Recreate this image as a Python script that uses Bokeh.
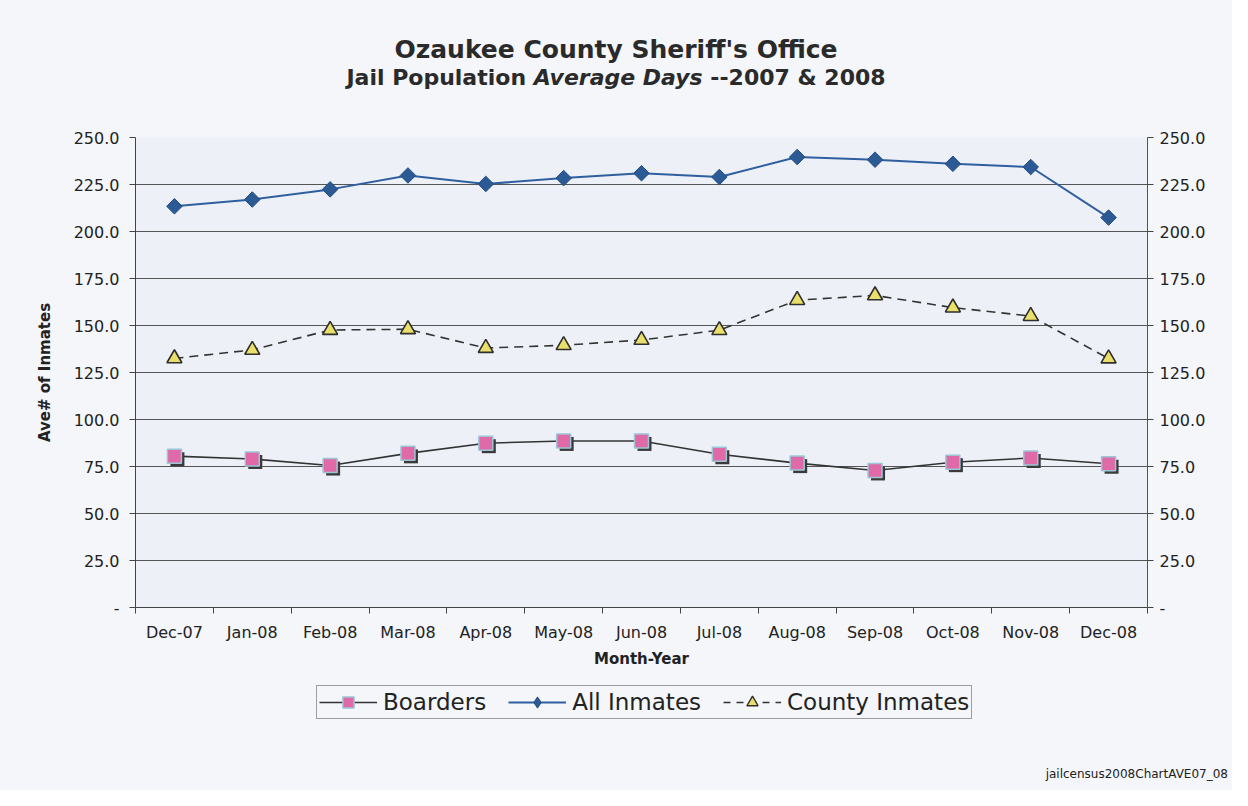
from bokeh.plotting import figure
from bokeh.models import (FixedTicker, LinearAxis, Legend, LegendItem, Range1d, Div)
from bokeh.layouts import column
from bokeh.embed import file_html
from bokeh.resources import INLINE

# ---------------- data ----------------
months = ["Dec-07", "Jan-08", "Feb-08", "Mar-08", "Apr-08", "May-08", "Jun-08",
          "Jul-08", "Aug-08", "Sep-08", "Oct-08", "Nov-08", "Dec-08"]
all_inmates = [213.4, 217.0, 222.4, 229.8, 225.3, 228.4, 231.0,
               229.0, 239.6, 238.2, 236.0, 234.3, 207.4]
county_inmates = [132.5, 137.0, 147.6, 148.0, 138.0, 139.5, 142.3,
                  147.5, 163.5, 166.0, 159.5, 155.0, 132.4]
boarders = [80.5, 79.0, 75.5, 82.0, 87.4, 88.6, 88.6,
            81.5, 76.8, 72.9, 77.3, 79.5, 76.5]
y_ticks = [0, 25, 50, 75, 100, 125, 150, 175, 200, 225, 250]
y_tick_labels = ["-", "25.0", "50.0", "75.0", "100.0", "125.0", "150.0",
                 "175.0", "200.0", "225.0", "250.0"]
series_names = ["Boarders", "All Inmates", "County Inmates"]
title_line1 = "Ozaukee County Sheriff's Office"
title_line2_a = "Jail Population"
title_line2_b = "Average Days"
title_line2_c = "--2007 &amp; 2008"
footer_text = "jailcensus2008ChartAVE07_08"

x_idx = list(range(len(months)))

# ---------------- layout constants ----------------
W = 1232
TITLE_H = 100
FIG_BOTTOM = 670
LEG_H = 60
FOOT_H = 790 - FIG_BOTTOM - LEG_H
FIG_H = FIG_BOTTOM - TITLE_H
FL, FR, FT, FB = 135, 1147, 137, 608      # frame edges (image px)
X0, X1 = -0.5, len(months) - 0.5
Y0, Y1 = 0, 250

FONT = "DejaVu Sans"
PAGE_BG = "#f4f6fa"
PLOT_BG = "#edf1f7"
TXT = "#222222"

# styles
C_ALL_LINE, C_ALL_MK = "#2f5f9e", "#2b5a94"
C_DARK = "#333333"
C_TRI = "#e9df6a"
C_PINK, C_PINK_EDGE, C_SHADOW = "#e06aa8", "#9cc6d6", "#3a3a3a"

title_div = Div(
    text=(f'<div style="font-family:\'{FONT}\';color:#2a2a2a;text-align:center;width:{W}px;">'
          f'<div style="font-size:25px;font-weight:bold;line-height:28px;padding-top:36px;">{title_line1}</div>'
          f'<div style="font-size:22px;font-weight:bold;line-height:28px;">{title_line2_a} '
          f'<i>{title_line2_b}</i> {title_line2_c}</div></div>'),
    width=W, height=TITLE_H, margin=(0, 0, 0, 0),
    styles={"background-color": PAGE_BG})

footer_div = Div(
    text=(f'<div style="font-family:\'{FONT}\';color:{TXT};font-size:12px;text-align:right;'
          f'width:{W - 4}px;padding-top:36px;">{footer_text}</div>'),
    width=W, height=FOOT_H, margin=(0, 0, 0, 0),
    styles={"background-color": PAGE_BG})

p = figure(width=W, height=FIG_H, output_backend="svg", toolbar_location=None,
           x_range=Range1d(X0, X1), y_range=Range1d(Y0, Y1),
           min_border_left=FL, min_border_right=W - FR,
           min_border_top=FT - TITLE_H, min_border_bottom=FIG_H - (FB - TITLE_H),
           background_fill_color=PLOT_BG, border_fill_color=PAGE_BG,
           margin=(0, 0, 0, 0))
p.outline_line_color = None
p.xgrid.grid_line_color = None
p.ygrid.ticker = FixedTicker(ticks=y_ticks)
p.ygrid.grid_line_color = "#555555"
p.ygrid.grid_line_width = 1

# x axis
xa = p.xaxis[0]
xa.ticker = FixedTicker(ticks=x_idx, minor_ticks=[i - 0.5 for i in range(len(months) + 1)])
xa.major_label_overrides = {i: m for i, m in zip(x_idx, months)}
xa.major_tick_out = 0
xa.major_tick_in = 0
xa.minor_tick_out = 6
xa.minor_tick_in = 0
xa.minor_tick_line_color = "#444444"
xa.axis_line_color = "#444444"
xa.major_label_standoff = 9
xa.major_label_text_font = FONT
xa.major_label_text_font_size = "16px"
xa.major_label_text_color = TXT
xa.axis_label = "Month-Year"
xa.axis_label_text_font = FONT
xa.axis_label_text_font_style = "bold"
xa.axis_label_text_font_size = "15px"
xa.axis_label_text_color = TXT
xa.axis_label_standoff = 5

# y axes
ya = p.yaxis[0]
ya.ticker = FixedTicker(ticks=y_ticks)
ya.major_label_overrides = {t: l for t, l in zip(y_ticks, y_tick_labels)}
ya.minor_tick_line_color = None
ya.major_tick_out = 6
ya.major_tick_in = 0
ya.major_tick_line_color = "#444444"
ya.axis_line_color = "#444444"
ya.major_label_standoff = 10
ya.major_label_text_font = FONT
ya.major_label_text_font_size = "16px"
ya.major_label_text_color = TXT
ya.axis_label = "Ave# of Inmates"
ya.axis_label_text_font = FONT
ya.axis_label_text_font_style = "bold"
ya.axis_label_text_font_size = "15px"
ya.axis_label_text_color = TXT
ya.axis_label_standoff = 17

ra = LinearAxis(ticker=FixedTicker(ticks=y_ticks),
                major_label_overrides={t: l for t, l in zip(y_ticks, y_tick_labels)})
ra.minor_tick_line_color = None
ra.major_tick_out = 6
ra.major_tick_in = 0
ra.major_tick_line_color = "#444444"
ra.axis_line_color = "#4a5a55"
ra.major_label_standoff = 6
ra.major_label_text_font = FONT
ra.major_label_text_font_size = "16px"
ra.major_label_text_color = TXT
p.add_layout(ra, "right")

# ---------------- series ----------------
sx = 3 / (FR - FL) * (X1 - X0)
sy = 3 / (FB - FT) * (Y1 - Y0)

p.line(x_idx, all_inmates, line_color=C_ALL_LINE, line_width=2)
p.scatter(x_idx, all_inmates, marker="square", angle=0.785398, size=11,
          fill_color=C_ALL_MK, line_color="#244d80", line_width=1)

p.line(x_idx, county_inmates, line_color=C_DARK, line_width=1.6, line_dash="9 6")
p.scatter(x_idx, county_inmates, marker="triangle", size=15,
          fill_color=C_TRI, line_color="#2e2e2e", line_width=1.6)

p.line(x_idx, boarders, line_color=C_DARK, line_width=1.6)
p.scatter([x + sx for x in x_idx], [b - sy for b in boarders], marker="square",
          size=14, fill_color=C_SHADOW, line_color=None)
p.scatter(x_idx, boarders, marker="square", size=14,
          fill_color=C_PINK, line_color=C_PINK_EDGE, line_width=1.5)

# ---------------- legend strip ----------------
# A thin figure below the chart holds the legend. Its renderers carry the same
# series, but its y range lies above every value so only the legend shows.
lg = figure(width=W, height=LEG_H, output_backend="svg", toolbar_location=None,
            x_axis_location=None, y_axis_location=None,
            x_range=Range1d(X0, X1), y_range=Range1d(Y1 + 100, Y1 + 200),
            min_border=0, min_border_left=0, min_border_right=0,
            min_border_top=0, min_border_bottom=0,
            background_fill_color=PAGE_BG, border_fill_color=PAGE_BG,
            margin=(0, 0, 0, 0))
lg.outline_line_color = None
lg.grid.visible = False
lb_l = lg.line(x_idx, boarders, line_color=C_DARK, line_width=1.6)
lb_m = lg.scatter(x_idx, boarders, marker="square", size=12, fill_color=C_PINK,
                  line_color=C_PINK_EDGE, line_width=1.5)
la_l = lg.line(x_idx, all_inmates, line_color=C_ALL_LINE, line_width=2)
la_m = lg.scatter(x_idx, all_inmates, marker="diamond", size=15, fill_color=C_ALL_MK,
                  line_color="#244d80", line_width=1)
lc_l = lg.line(x_idx, county_inmates, line_color=C_DARK, line_width=1.6, line_dash="7 6")
lc_m = lg.scatter(x_idx, county_inmates, marker="triangle", size=13, fill_color=C_TRI,
                  line_color="#2e2e2e", line_width=1.4)

legend = Legend(items=[
    LegendItem(label=series_names[0], renderers=[lb_l, lb_m]),
    LegendItem(label=series_names[1], renderers=[la_l, la_m]),
    LegendItem(label=series_names[2], renderers=[lc_l, lc_m]),
], orientation="horizontal", location=(316 - FL, LEG_H - (719 - FIG_BOTTOM)))
legend.label_text_font = FONT
legend.label_text_font_size = "23px"
legend.label_text_color = TXT
legend.glyph_width = 58
legend.glyph_height = 28
legend.label_standoff = 6
legend.spacing = 22
legend.padding = 2
legend.margin = 0
legend.border_line_color = "#444444"
legend.border_line_width = 1
legend.background_fill_color = PAGE_BG
legend.background_fill_alpha = 1
lg.add_layout(legend, "center")

layout = column(title_div, p, lg, footer_div, spacing=0)
layout.styles = {"background-color": PAGE_BG}

open("out.html", "w").write(file_html(layout, INLINE))
